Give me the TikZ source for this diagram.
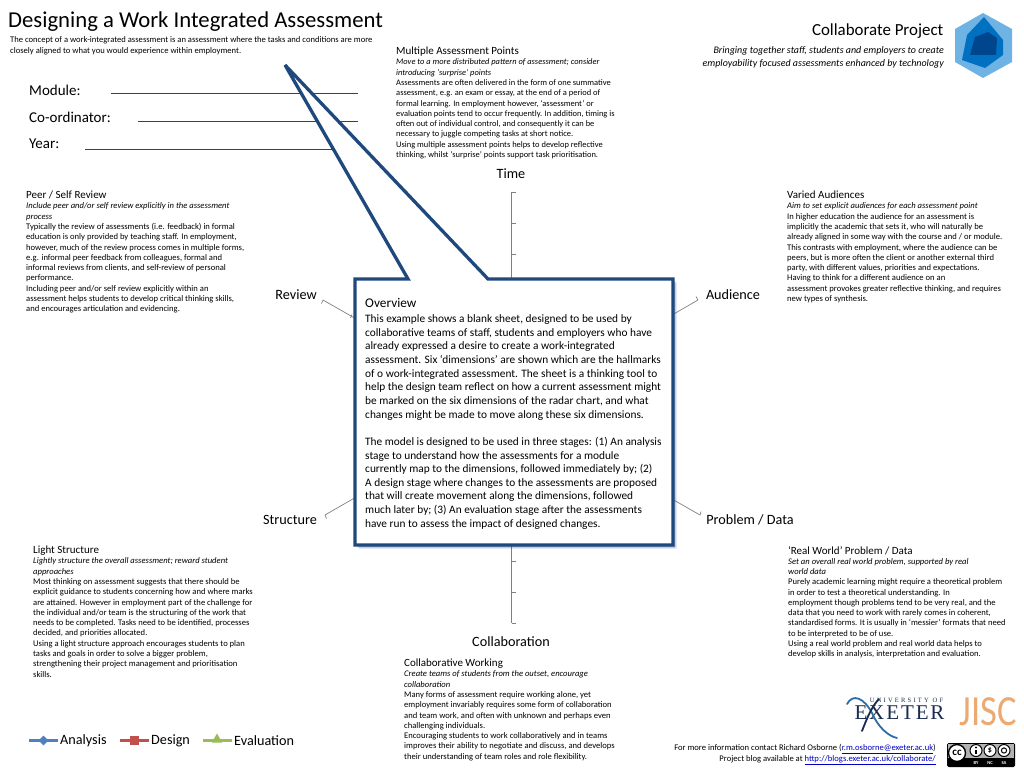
\documentclass[tikz,border=0pt]{standalone}
\usepackage{fontspec}
\setmainfont{Carlito}
\newfontfamily\exeterwide[LetterSpace=34]{Liberation Serif}
\newfontfamily\exeterbig[LetterSpace=9]{Liberation Serif}
\usepackage{tikz}
\usetikzlibrary{shapes,positioning,shadows}
\usepackage{xcolor}
\definecolor{cbnavy}{RGB}{31,73,125}
\definecolor{cbaxis}{RGB}{128,128,128}
\definecolor{cbanalysis}{RGB}{79,129,189}
\definecolor{cbdesign}{RGB}{192,80,77}
\definecolor{cbeval}{RGB}{155,187,89}
\definecolor{cbhexa}{RGB}{111,178,228}
\definecolor{cbhexb}{RGB}{0,112,192}
\definecolor{cbhexc}{RGB}{0,70,142}
\definecolor{cbjisc}{RGB}{236,170,115}
\definecolor{cbexnavy}{RGB}{26,43,80}
\definecolor{cbexblue}{RGB}{43,110,166}
\definecolor{cblink}{RGB}{0,0,190}
\newcommand{\blurbhead}[1]{{\fontsize{11}{13}\selectfont #1}\\[-0.3pt]}
\newcommand{\cblink}[1]{\textcolor{cblink}{\underline{#1}}}
\tikzstyle{blurb} = [anchor=north west, inner sep=0pt, align=left, font=\fontsize{8.6}{10.3}\selectfont]
\tikzstyle{axislabel} = [inner sep=0pt, font=\fontsize{14.2}{17}\selectfont]
\tikzstyle{fieldlabel} = [anchor=west, inner sep=0pt, font=\fontsize{15}{18}\selectfont]
\tikzstyle{fieldline} = [draw=black!75, line width=0.8pt]
\tikzstyle{axisline} = [draw=cbaxis, line width=0.7pt]
\tikzstyle{callout} = [draw=cbnavy, fill=white, line width=3.3pt, line join=miter, miter limit=4,
    drop shadow={shadow xshift=3.5pt, shadow yshift=-3.5pt, fill=cbnavy, opacity=0.18},
    drop shadow={shadow xshift=2.4pt, shadow yshift=-2.4pt, fill=cbnavy, opacity=0.3}]
\tikzstyle{legendtext} = [anchor=west, inner sep=0pt, font=\fontsize{14.2}{17}\selectfont]
\tikzstyle{legendline} = [line width=2.6pt]

\begin{document}
\begin{tikzpicture}[x=1pt, y=-1pt]
    \useasboundingbox (0,0) rectangle (1024,768);

    % Heading
    \node[anchor=west, inner sep=0pt, font=\fontsize{22.7}{27}\selectfont] (title) at (8,21.5) {Designing a Work Integrated Assessment};
    \node[blurb, font=\fontsize{8.6}{11.4}\selectfont] (intro) at (10,36) {The concept of a work-integrated assessment is an assessment where the tasks and conditions are more\\closely aligned to what you would experience within employment.};

    % Form fields
    \node[fieldlabel] (modlabel) at (29,90) {Module:};
    \node[fieldlabel] (coordlabel) at (29,117) {Co-ordinator:};
    \node[fieldlabel] (yearlabel) at (29,144) {Year:};
    \coordinate (modstart) at (110.5,93.5);
    \coordinate (modend) at (358,93.5);
    \coordinate (coordstart) at (138,121.5);
    \coordinate (coordend) at (358,121.5);
    \coordinate (yearstart) at (85,149.5);
    \coordinate (yearend) at (358,149.5);
    \draw[fieldline] (modstart) -- (modend);
    \draw[fieldline] (coordstart) -- (coordend);
    \draw[fieldline] (yearstart) -- (yearend);

    % Project header
    \node[anchor=east, inner sep=0pt, font=\fontsize{16.9}{20}\selectfont] (project) at (943.5,31) {Collaborate Project};
    \node[anchor=north east, inner sep=0pt, align=right, font=\fontsize{10}{12.6}\selectfont\itshape] (strap) at (944,46.5) {Bringing together staff, students and employers to create\\employability focused assessments enhanced by technology};
    \fill[cbhexa] (983,13) -- (1012,29) -- (1012,62) -- (983,78) -- (955,62) -- (955,29) -- cycle;
    \fill[cbhexb] (984,17) -- (1003,40) -- (1003,55) -- (985,68) -- (962,60) -- (967,35) -- cycle;
    \fill[cbhexc] (988,32) -- (997,38) -- (996,55) -- (970,55) -- (975,37) -- cycle;

    % Radar axes
    \coordinate (axc) at (511.5,407.5);
    \coordinate (axtime) at (511.5,192);
    \coordinate (axaud) at (698,300);
    \coordinate (axprob) at (700,515);
    \coordinate (axcoll) at (511.5,623);
    \coordinate (axstruct) at (325,515);
    \coordinate (axrev) at (323,300);
    \draw[axisline] (axc) -- (axtime);
    \draw[axisline] (axc) -- (axaud);
    \draw[axisline] (axc) -- (axprob);
    \draw[axisline] (axc) -- (axcoll);
    \draw[axisline] (axc) -- (axstruct);
    \draw[axisline] (axc) -- (axrev);
    \foreach \ty in {192,223,254,561,592,623}
        \draw[axisline] (511.5,\ty) -- ++(4.5,0);
    \draw[axisline] (axrev) -- ++(-1.5,3.5);
    \draw[axisline] (axstruct) -- ++(1.5,3.5);
    \draw[axisline] (axaud) -- ++(-2,-3.5);
    \draw[axisline] (axprob) -- ++(1,-3.5);
    \draw[axisline] (352,314.5) -- ++(-1.5,3.5);

    % Axis labels
    \node[axislabel] (time) at (511,173.5) {Time};
    \node[axislabel] (audience) at (733,295) {Audience};
    \node[axislabel] (problem) at (750,519.5) {Problem / Data};
    \node[axislabel] (collab) at (511,641.5) {Collaboration};
    \node[axislabel] (structure) at (290,519.5) {Structure};
    \node[axislabel] (review) at (296,295) {Review};

    % Dimension notes
    \node[blurb, font=\fontsize{8.45}{10.3}\selectfont] (timenote) at (396,47) {\blurbhead{Multiple Assessment Points}\textit{Move to a more distributed pattern of assessment; consider}\\\textit{introducing ‘surprise’ points}\\Assessments are often delivered in the form of one summative\\assessment, e.g. an exam or essay, at the end of a period of\\formal learning. In employment however, ‘assessment’ or\\evaluation points tend to occur frequently. In addition, timing is\\often out of individual control, and consequently it can be\\necessary to juggle competing tasks at short notice.\\Using multiple assessment points helps to develop reflective\\thinking, whilst ‘surprise’ points support task prioritisation.};
    \node[blurb] (reviewnote) at (26,191) {\blurbhead{Peer / Self Review}\textit{Include peer and/or self review explicitly in the assessment}\\\textit{process}\\Typically the review of assessments (i.e. feedback) in formal\\education is only provided by teaching staff. In employment,\\however, much of the review process comes in multiple forms,\\e.g. informal peer feedback from colleagues, formal and\\informal reviews from clients, and self-review of personal\\performance.\\Including peer and/or self review explicitly within an\\assessment helps students to develop critical thinking skills,\\and encourages articulation and evidencing.};
    \node[blurb] (audnote) at (787,191) {\blurbhead{Varied Audiences}\textit{Aim to set explicit audiences for each assessment point}\\In higher education the audience for an assessment is\\implicitly the academic that sets it, who will naturally be\\already aligned in some way with the course and / or module.\\This contrasts with employment, where the audience can be\\peers, but is more often the client or another external third\\party, with different values, priorities and expectations.\\Having to think for a different audience on an\\assessment provokes greater reflective thinking, and requires\\new types of synthesis.};
    \node[blurb] (structnote) at (33,546) {\blurbhead{Light Structure}\textit{Lightly structure the overall assessment; reward student}\\\textit{approaches}\\Most thinking on assessment suggests that there should be\\explicit guidance to students concerning how and where marks\\are attained. However in employment part of the challenge for\\the individual and/or team is the structuring of the work that\\needs to be completed. Tasks need to be identified, processes\\decided, and priorities allocated.\\Using a light structure approach encourages students to plan\\tasks and goals in order to solve a bigger problem,\\strengthening their project management and prioritisation\\skills.};
    \node[blurb] (probnote) at (788,546) {\blurbhead{‘Real World’ Problem / Data}\textit{Set an overall real world problem, supported by real}\\\textit{world data}\\Purely academic learning might require a theoretical problem\\in order to test a theoretical understanding. In\\employment though problems tend to be very real, and the\\data that you need to work with rarely comes in coherent,\\standardised forms. It is usually in ‘messier’ formats that need\\to be interpreted to be of use.\\Using a real world problem and real world data helps to\\develop skills in analysis, interpretation and evaluation.};
    \node[blurb] (collabnote) at (404,659) {\blurbhead{Collaborative Working}\textit{Create teams of students from the outset, encourage}\\\textit{collaboration}\\Many forms of assessment require working alone, yet\\employment invariably requires some form of collaboration\\and team work, and often with unknown and perhaps even\\challenging individuals.\\Encouraging students to work collaboratively and in teams\\improves their ability to negotiate and discuss, and develops\\their understanding of team roles and role flexibility.};

    % Overview callout
    \draw[callout] (355,279) -- (408,279) -- (285,65) -- (488,279) -- (673,279) -- (673,545) -- (355,545) -- cycle;
    \node[anchor=north west, inner sep=0pt, align=left, font=\fontsize{11.35}{13.65}\selectfont] (overview) at (365,298.5) {{\fontsize{13.3}{16}\selectfont Overview}\\[1pt]This example shows a blank sheet, designed to be used by\\collaborative teams of staff, students and employers who have\\already expressed a desire to create a work-integrated\\assessment. Six ‘dimensions’ are shown which are the hallmarks\\of o work-integrated assessment. The sheet is a thinking tool to\\help the design team reflect on how a current assessment might\\be marked on the six dimensions of the radar chart, and what\\changes might be made to move along these six dimensions.\\[13.65pt]The model is designed to be used in three stages: (1) An analysis\\stage to understand how the assessments for a module\\currently map to the dimensions, followed immediately by; (2)\\A design stage where changes to the assessments are proposed\\that will create movement along the dimensions, followed\\much later by; (3) An evaluation stage after the assessments\\have run to assess the impact of designed changes.};

    % Legend
    \coordinate (anaL) at (29,740.5);
    \coordinate (anaR) at (58,740.5);
    \coordinate (desL) at (120,740.5);
    \coordinate (desR) at (149,740.5);
    \coordinate (evaL) at (203,740.5);
    \coordinate (evaR) at (232,740.5);
    \draw[legendline, cbanalysis] (anaL) -- (anaR);
    \draw[legendline, cbdesign] (desL) -- (desR);
    \draw[legendline, cbeval] (evaL) -- (evaR);
    \node[diamond, fill=cbanalysis, inner sep=0pt, minimum size=10pt] (anamark) at (43.5,740.5) {};
    \node[rectangle, fill=cbdesign, inner sep=0pt, minimum size=9pt] (desmark) at (134,740.5) {};
    \node[isosceles triangle, isosceles triangle apex angle=60, shape border rotate=90, fill=cbeval, inner sep=0pt, minimum size=9pt] (evamark) at (217,739.5) {};
    \node[legendtext] (analabel) at (60,740.5) {Analysis};
    \node[legendtext] (deslabel) at (151,740.5) {Design};
    \node[legendtext] (evalabel) at (234,740.5) {Evaluation};

    % Footer
    \node[anchor=north east, inner sep=0pt, align=right, font=\fontsize{8.6}{11}\selectfont] (contact) at (936,744) {For more information contact Richard Osborne (\cblink{r.m.osborne@exeter.ac.uk})\\Project blog available at \cblink{http://blogs.exeter.ac.uk/collaborate/}};

    % Logos
    \node[inner sep=0pt, text=cbexnavy, font=\fontsize{6.5}{8}\exeterwide] (univof) at (906.5,700) {UNIVERSITY OF};
    \node[inner sep=0pt, text=cbexnavy, font=\fontsize{21}{24}\exeterbig] (exeter) at (899.5,713) {EXETER};
    \draw[cbexblue, line width=1.8pt, line cap=round] (847,704) .. controls (853,693) and (864,698) .. (872,713) .. controls (878,727) and (888,736) .. (897,738);
    \draw[cbexnavy, line width=1.8pt, line cap=round] (879,699) .. controls (872,706) and (867,718) .. (862,731);
    \node[inner sep=0pt, text=cbjisc, font=\fontsize{43}{48}\selectfont] (jisc) at (988,711.5) {\scalebox{0.85}[1]{JISC}};
    \fill[black, rounded corners=1.5pt] (947,743) rectangle (1015,767);
    \fill[white!70!black] (948,744) rectangle (1014,758);
    \fill[white] (957,753) circle (8.5);
    \draw[black, line width=1.4pt] (957,753) circle (8.5);
    \node[inner sep=0pt, font=\fontsize{11}{12}\bfseries] (cc) at (957,752.5) {cc};
    \foreach \bx in {976,990,1004} {
        \fill[white] (\bx,750.5) circle (6);
        \draw[black, line width=1pt] (\bx,750.5) circle (6);
    }
    \fill[black] (976,747.5) circle (1.2);
    \fill[black] (974.6,749.5) rectangle (977.4,754);
    \node[inner sep=0pt, font=\fontsize{8}{9}\bfseries] (ncsign) at (990,750.5) {\$};
    \draw[black, line width=1pt] (1004,750.5) circle (2.6);
    \node[inner sep=0pt, text=white, font=\fontsize{4.6}{5}\bfseries] (bylabel) at (976,762.5) {BY};
    \node[inner sep=0pt, text=white, font=\fontsize{4.6}{5}\bfseries] (nclabel) at (990,762.5) {NC};
    \node[inner sep=0pt, text=white, font=\fontsize{4.6}{5}\bfseries] (salabel) at (1004,762.5) {SA};
\end{tikzpicture}
\end{document}
